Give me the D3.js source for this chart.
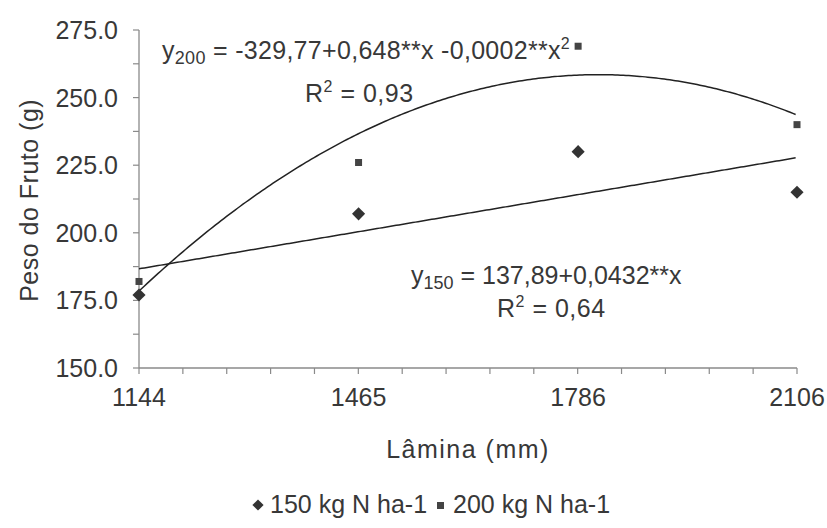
<!DOCTYPE html>
<html lang="pt">
<head>
<meta charset="utf-8">
<title>Peso do Fruto</title>
<style>
  body { margin: 0; background: #fff; }
  svg text { font-family: Arial, "Liberation Sans", sans-serif; fill: #383838; }
</style>
</head>
<body>
<svg width="827" height="528"></svg>
<script src="https://cdn.jsdelivr.net/npm/d3@7"></script>
<script>
// data
var laminas = [1144, 1465, 1786, 2106];
var peso150 = [177, 207, 230, 215];
var peso200 = [182, 226, 269, 240];
var yTicks = [150, 175, 200, 225, 250, 275];
var series = ["150 kg N ha-1", "200 kg N ha-1"];

var svg = d3.select("svg");
var mLeft = 139, mRight = 797, mTop = 30, mBottom = 368;

var x = d3.scaleLinear().domain([1144, 2106]).range([mLeft, mRight]);
var y = d3.scaleLinear().domain([150, 275]).range([mBottom, mTop]);

var axisColor = "#8a8a8a";

// least squares polynomial fit (degree 1 or 2)
function polyfit(xs, ys, deg) {
  var n = deg + 1, A = [], b = [];
  for (var i = 0; i < n; i++) {
    A.push([]);
    for (var j = 0; j < n; j++) A[i].push(d3.sum(xs, function(v) { return Math.pow(v, i + j); }));
    b.push(d3.sum(xs, function(v, k) { return Math.pow(v, i) * ys[k]; }));
  }
  for (var c = 0; c < n; c++) {
    for (var r = c + 1; r < n; r++) {
      var f = A[r][c] / A[c][c];
      for (var k = c; k < n; k++) A[r][k] -= f * A[c][k];
      b[r] -= f * b[c];
    }
  }
  var coef = new Array(n);
  for (var r2 = n - 1; r2 >= 0; r2--) {
    var s = b[r2];
    for (var k2 = r2 + 1; k2 < n; k2++) s -= A[r2][k2] * coef[k2];
    coef[r2] = s / A[r2][r2];
  }
  return function(v) { return d3.sum(coef, function(cf, p) { return cf * Math.pow(v, p); }); };
}

// centre x to keep the fit well conditioned
var xc = laminas.map(function(v) { return (v - 1625) / 100; });
var fit150 = polyfit(xc, peso150, 1);
var fit200 = polyfit(xc, peso200, 2);

// axes
var yAxis = svg.append("g");
yAxis.append("line").attr("x1", mLeft).attr("x2", mLeft).attr("y1", mTop).attr("y2", mBottom)
  .attr("stroke", axisColor).attr("stroke-width", 1.3);
d3.range(150, 275.1, 12.5).forEach(function(v) {
  yAxis.append("line").attr("x1", mLeft - 6).attr("x2", mLeft).attr("y1", y(v)).attr("y2", y(v))
    .attr("stroke", axisColor).attr("stroke-width", 1.2);
});
yAxis.selectAll("text").data(yTicks).enter().append("text")
  .attr("x", mLeft - 21).attr("y", function(d) { return y(d); }).attr("dy", "0.36em")
  .attr("text-anchor", "end").style("font-size", "25px")
  .text(function(d) { return d.toFixed(1); });

var xAxis = svg.append("g");
xAxis.append("line").attr("x1", mLeft).attr("x2", mRight).attr("y1", mBottom).attr("y2", mBottom)
  .attr("stroke", axisColor).attr("stroke-width", 1.3);
d3.range(16).forEach(function(i) {
  var v = 1144 + i * (2106 - 1144) / 15;
  xAxis.append("line").attr("x1", x(v)).attr("x2", x(v)).attr("y1", mBottom).attr("y2", mBottom + 6)
    .attr("stroke", axisColor).attr("stroke-width", 1.2);
});
xAxis.selectAll("text").data(laminas).enter().append("text")
  .attr("x", function(d) { return x(d); }).attr("y", 406)
  .attr("text-anchor", "middle").style("font-size", "25px")
  .text(function(d) { return d; });

svg.append("text").attr("x", x(1625)).attr("y", 458).attr("text-anchor", "middle")
  .style("font-size", "25px").style("letter-spacing", "1.5px").text("Lâmina (mm)");
svg.append("text").attr("transform", "translate(38," + y(212) + ") rotate(-90)")
  .attr("text-anchor", "middle").style("font-size", "25px").style("letter-spacing", "0.5px")
  .text("Peso do Fruto (g)");

// trend lines
var xs = d3.range(1144, 2106.01, 4);
var line = d3.line();
svg.append("path")
  .attr("d", line(xs.map(function(v) { return [x(v), y(fit150((v - 1625) / 100))]; })))
  .attr("fill", "none").attr("stroke", "#222").attr("stroke-width", 1.5);
svg.append("path")
  .attr("d", line(xs.map(function(v) { return [x(v), y(fit200((v - 1625) / 100))]; })))
  .attr("fill", "none").attr("stroke", "#222").attr("stroke-width", 1.5);

// points
var diamond = d3.symbol().type(d3.symbolDiamond2).size(110);
svg.selectAll(".p150").data(laminas).enter().append("path")
  .attr("class", "p150")
  .attr("transform", function(d, i) { return "translate(" + x(d) + "," + y(peso150[i]) + ")"; })
  .attr("d", diamond).attr("fill", "#333");
svg.selectAll(".p200").data(laminas).enter().append("rect")
  .attr("class", "p200")
  .attr("x", function(d) { return x(d) - 3.5; })
  .attr("y", function(d, i) { return y(peso200[i]) - 3.5; })
  .attr("width", 7).attr("height", 7).attr("fill", "#444");

// equations
var eq200 = svg.append("text").attr("x", 162).attr("y", 59).style("font-size", "25px")
  .style("letter-spacing", "0.3px");
eq200.append("tspan").text("y");
eq200.append("tspan").attr("dy", 5).style("font-size", "18px").text("200");
eq200.append("tspan").attr("dy", -5).text(" = -329,77+0,648**x -0,0002**x");
eq200.append("tspan").attr("dy", -10).style("font-size", "16px").text("2");

var r200 = svg.append("text").attr("x", 305).attr("y", 102).style("font-size", "25px")
  .style("letter-spacing", "0.5px");
r200.append("tspan").text("R");
r200.append("tspan").attr("dy", -10).style("font-size", "16px").text("2");
r200.append("tspan").attr("dy", 10).text(" = 0,93");

var eq150 = svg.append("text").attr("x", 411).attr("y", 284).style("font-size", "25px");
eq150.append("tspan").text("y");
eq150.append("tspan").attr("dy", 5).style("font-size", "18px").text("150");
eq150.append("tspan").attr("dy", -5).text(" = 137,89+0,0432**x");

var r150 = svg.append("text").attr("x", 497).attr("y", 317).style("font-size", "25px")
  .style("letter-spacing", "0.5px");
r150.append("tspan").text("R");
r150.append("tspan").attr("dy", -10).style("font-size", "16px").text("2");
r150.append("tspan").attr("dy", 10).text(" = 0,64");

// legend
var leg = svg.append("g");
leg.append("path").attr("transform", "translate(258,505)")
  .attr("d", d3.symbol().type(d3.symbolDiamond2).size(80)).attr("fill", "#333");
leg.append("text").attr("x", 270).attr("y", 513).style("font-size", "25px").text(series[0]);
leg.append("rect").attr("x", 437).attr("y", 502).attr("width", 7).attr("height", 7).attr("fill", "#444");
leg.append("text").attr("x", 453).attr("y", 513).style("font-size", "25px").text(series[1]);
</script>
</body>
</html>
